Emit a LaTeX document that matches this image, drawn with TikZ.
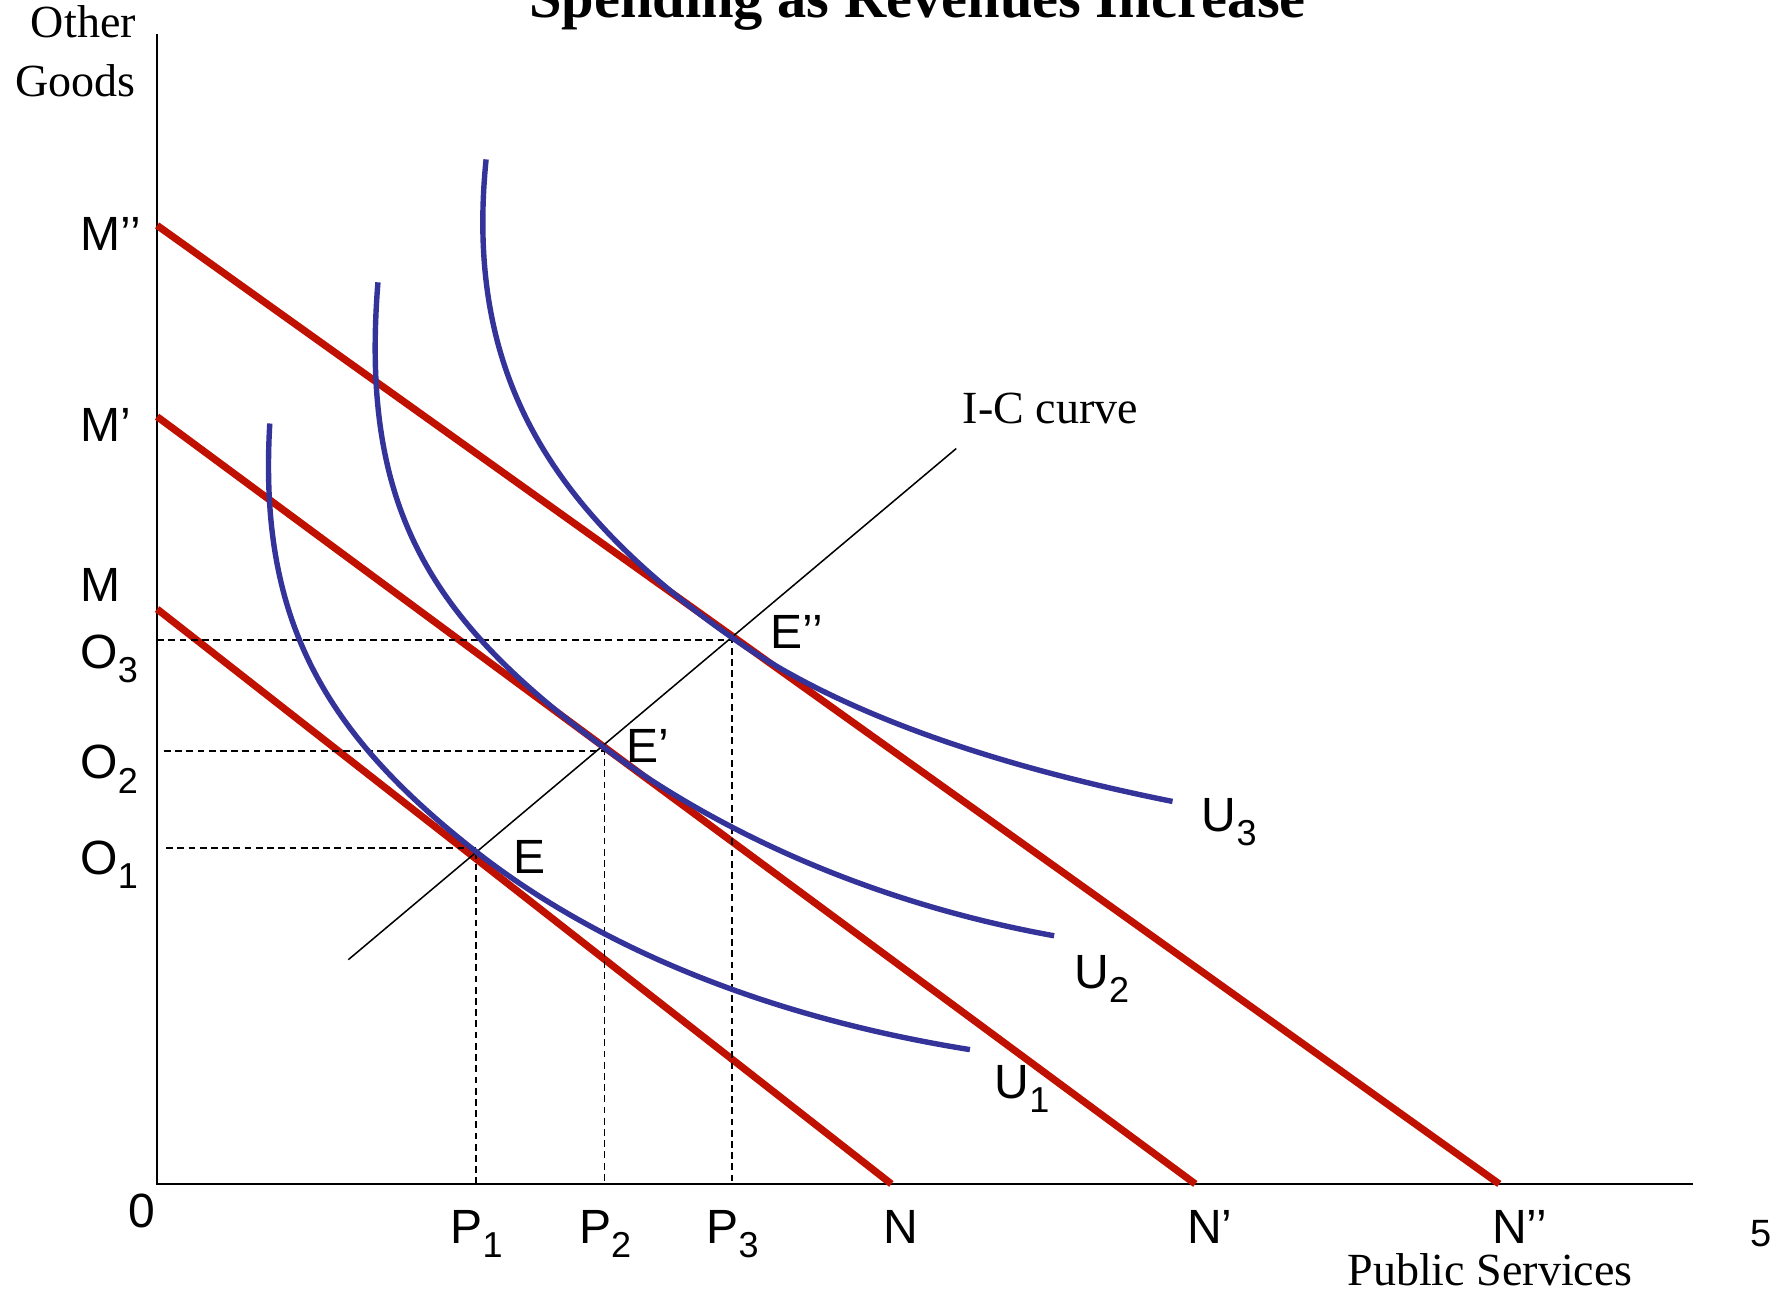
\documentclass[tikz,border=0pt]{standalone}
\usepackage{fontspec}
\setmainfont{Liberation Serif}
\newfontfamily\arialf{Liberation Sans}
\definecolor{bred}{RGB}{192,16,0}
\definecolor{iblue}{RGB}{51,51,153}
\newcommand{\lowidx}[1]{\raisebox{-3.6pt}{\fontsize{9}{9}\selectfont #1}}
\begin{document}
\begin{tikzpicture}[x=0.01cm,y=-0.01cm,
  budget/.style={draw=bred,line width=1.8pt},
  icurve/.style={draw=iblue,line width=1.35pt},
  guide/.style={draw=black,line width=0.45pt,dash pattern=on 1.7pt off 1.1pt},
  axisline/.style={line width=0.6pt},
  icline/.style={line width=0.38pt},
  lab/.style={font=\arialf\fontsize{12}{12}\selectfont, inner sep=0pt, anchor=base west},
  serif/.style={font=\fontsize{11.5}{11.5}\selectfont, inner sep=0pt}]
\useasboundingbox (0,0) rectangle (1568,1138);

% title (cut off at top, as in the reference)
\node[font=\bfseries\fontsize{14.6}{14.6}\selectfont, inner sep=0pt, anchor=base] (title) at (806,15) {Spending as Revenues Increase};

% axes
\coordinate (O) at (138,1040);
\coordinate (ytop) at (138,30);
\coordinate (xend) at (1487,1040);
\draw[axisline] (ytop) -- (O) -- (xend);

% budget lines
\coordinate (M) at (138,535);   \coordinate (N) at (783,1040);
\coordinate (M1) at (138,366);  \coordinate (N1) at (1050,1040);
\coordinate (M2) at (138,198);  \coordinate (N2) at (1317,1040);
\draw[budget] (M) -- (N);
\draw[budget] (M1) -- (N1);
\draw[budget] (M2) -- (N2);

% equilibrium points and guides
\coordinate (E) at (418,745);
\coordinate (E1) at (531,660);
\coordinate (E2) at (643,562);
\coordinate (O1) at (146,745);  \coordinate (P1) at (418,1040);
\coordinate (O2) at (144,660);  \coordinate (P2) at (531,1040);
\coordinate (O3) at (138,562);  \coordinate (P3) at (643,1040);
\draw[guide] (O1) -- (E) -- (P1);
\draw[guide] (O2) -- (E1) -- (P2);
\draw[guide] (O3) -- (E2) -- (P3);

% I-C curve
\coordinate (IC0) at (306,843);
\coordinate (IC1) at (840,394);
\draw[icline] (IC0) -- (IC1);

% indifference curves
\coordinate (U1s) at (237,372); \coordinate (U1t) at (418,748); \coordinate (U1e) at (852,922);
\coordinate (U2s) at (332,248); \coordinate (U2t) at (531,657); \coordinate (U2e) at (926,822);
\coordinate (U3s) at (427,140); \coordinate (U3t) at (643,560); \coordinate (U3e) at (1030,704);
\draw[icurve] (U1s) .. controls (227,542) and (282.6,642) .. (U1t)
              .. controls (528.8,834.7) and (678.9,894.3) .. (U1e);
\draw[icurve] (U2s) .. controls (316,448) and (378.6,544.5) .. (U2t)
              .. controls (640.2,737.7) and (778.5,795.4) .. (U2e);
\draw[icurve] (U3s) .. controls (409,320) and (475,442.2) .. (U3t)
              .. controls (728.5,621) and (860,670) .. (U3e);

% labels
\node[lab] (lM2) at (70,220) {M’’};
\node[lab] (lM1) at (70,388) {M’};
\node[lab] (lM) at (70,528) {M};
\node[lab] (lO3) at (70,587) {O\lowidx{3}};
\node[lab] (lO2) at (70,684) {O\lowidx{2}};
\node[lab] (lO1) at (70,768) {O\lowidx{1}};
\node[lab] (l0) at (112,1078) {0};
\node[lab] (lP1) at (395,1092) {P\lowidx{1}};
\node[lab] (lP2) at (508,1092) {P\lowidx{2}};
\node[lab] (lP3) at (620,1092) {P\lowidx{3}};
\node[lab] (lN) at (775,1092) {N};
\node[lab] (lN1) at (1042,1092) {N’};
\node[lab] (lN2) at (1310,1092) {N’’};
\node[lab, font=\arialf\fontsize{9.5}{9.5}\selectfont] (l5) at (1537,1095) {5};
\node[lab] (lE) at (450,767) {E};
\node[lab] (lE1) at (550,670) {E’};
\node[lab] (lE2) at (676,570) {E’’};
\node[lab] (lU3) at (1055,730) {U\lowidx{3}};
\node[lab] (lU2) at (943,868) {U\lowidx{2}};
\node[lab] (lU1) at (873,965) {U\lowidx{1}};

\node[serif, anchor=base east] (lother) at (120,33) {Other};
\node[serif, anchor=base east] (lgoods) at (120,85) {Goods};
\node[serif, anchor=base west] (lic) at (845,372) {I-C curve};
\node[serif, anchor=base west] (lps) at (1183,1129) {Public Services};
\end{tikzpicture}
\end{document}
